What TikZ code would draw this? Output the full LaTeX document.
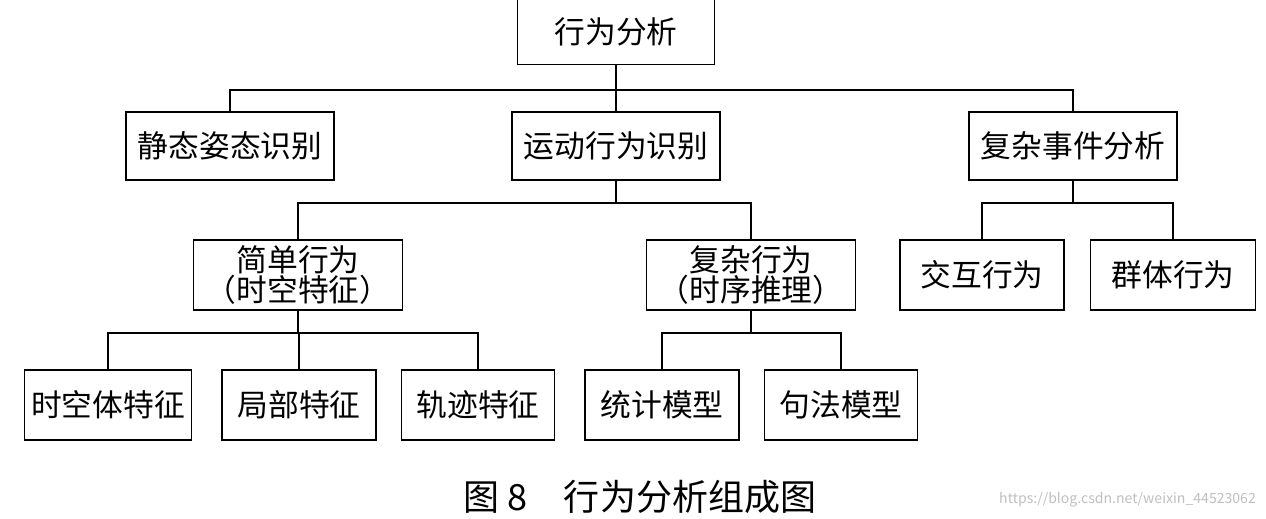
\documentclass[tikz,border=0pt]{standalone}
\usepackage{fontspec}
\setmainfont{Noto Sans CJK SC}
\usetikzlibrary{positioning}
\tikzset{
  box/.style={draw, line width=0.8pt, minimum height=1.36cm, inner sep=2pt, align=center, font=\fontsize{17.5}{15.5}\selectfont},
  link/.style={line width=0.8pt}
}
\begin{document}
\begin{tikzpicture}[x=0.02cm, y=-0.02cm]
    \useasboundingbox (0,0) rectangle (1266,519);

    % top level
    \node[box, minimum width=3.94cm, minimum height=1.3cm] (root) at (616,32) {行为分析};

    % second level
    \node[box, minimum width=4.16cm] (static) at (230,146) {静态姿态识别};
    \node[box, minimum width=4.16cm] (motion) at (616,146) {运动行为识别};
    \node[box, minimum width=4.16cm] (event)  at (1073,146) {复杂事件分析};

    % third level
    \node[box, minimum width=4.18cm, minimum height=1.4cm] (simple)  at (298,275) {简单行为\\（时空特征）};
    \node[box, minimum width=4.18cm, minimum height=1.4cm] (complex) at (751,275) {复杂行为\\（时序推理）};
    \node[box, minimum width=3.28cm, minimum height=1.4cm] (inter) at (982,275) {交互行为};
    \node[box, minimum width=3.3cm, minimum height=1.4cm] (group) at (1173,275) {群体行为};

    % fourth level
    \node[box, minimum width=3.34cm, minimum height=1.4cm] (stvol) at (108,405) {时空体特征};
    \node[box, minimum width=3.08cm, minimum height=1.4cm] (local) at (299,405) {局部特征};
    \node[box, minimum width=3.06cm, minimum height=1.4cm] (track) at (478,405) {轨迹特征};
    \node[box, minimum width=3.08cm, minimum height=1.4cm] (stat)  at (662,405) {统计模型};
    \node[box, minimum width=3.06cm, minimum height=1.4cm] (synt)  at (841,405) {句法模型};

    % bus heights
    \coordinate (b1) at (0,90);
    \coordinate (b2) at (0,203);
    \coordinate (b3) at (0,333);

    \draw[link] (root.south) -- (root.south |- b1);
    \foreach \c in {static, motion, event}
        \draw[link] (root.south |- b1) -| (\c.north);

    \draw[link] (motion.south) -- (motion.south |- b2);
    \foreach \c in {simple, complex}
        \draw[link] (motion.south |- b2) -| (\c.north);

    \draw[link] (event.south) -- (event.south |- b2);
    \foreach \c in {inter, group}
        \draw[link] (event.south |- b2) -| (\c.north);

    \draw[link] (simple.south) -- (simple.south |- b3);
    \foreach \c in {stvol, local, track}
        \draw[link] (simple.south |- b3) -| (\c.north);

    \draw[link] (complex.south) -- (complex.south |- b3);
    \foreach \c in {stat, synt}
        \draw[link] (complex.south |- b3) -| (\c.north);

    % caption
    \node[font=\fontsize{20.5}{21}\selectfont] (cap) at (640,497) {图 8\quad 行为分析组成图};
    \node[font=\fontsize{8}{9}\selectfont, text=black!25, anchor=east] (mark) at (1262,500) {https://blog.csdn.net/weixin\_44523062};
\end{tikzpicture}
\end{document}
